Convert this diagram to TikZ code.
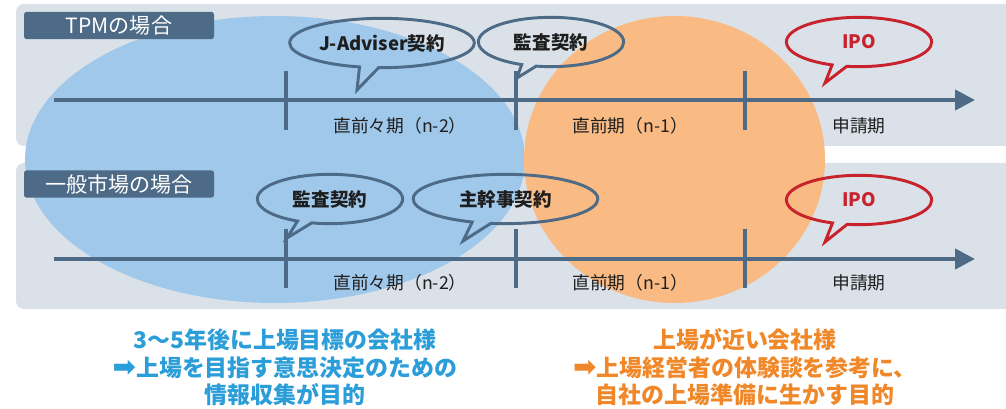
\documentclass[tikz,border=0pt]{standalone}
\usepackage{fontspec}
\newfontfamily\jpfont{Noto Sans CJK JP}
\newfontfamily\symfont{DejaVu Sans}
\newcommand{\goalarrow}{{\symfont\fontsize{21pt}{20.6pt}\selectfont ➡}}
\usetikzlibrary{shapes.callouts,arrows.meta}

\definecolor{panelgrey}{RGB}{218,225,232}
\definecolor{slate}{RGB}{77,106,134}
\definecolor{skyfill}{RGB}{160,200,235}
\definecolor{peachfill}{RGB}{249,187,131}
\definecolor{ipored}{RGB}{200,35,45}
\definecolor{goalblue}{RGB}{43,157,216}
\definecolor{goalorange}{RGB}{240,135,40}
\definecolor{darktext}{RGB}{30,30,30}

\tikzset{every picture/.style={line width=0.75pt},
  panel/.style={fill=panelgrey, rounded corners=6pt},
  tag/.style={fill=slate, rounded corners=2pt, inner sep=0pt, minimum width=142.5pt, minimum height=20.5pt, text=white, font=\jpfont\fontsize{15.8pt}{18pt}\selectfont},
  timeline/.style={draw=slate, line width=3.2pt, -{Triangle[length=15pt,width=15pt]}},
  tickmark/.style={draw=slate, line width=3.4pt},
  period/.style={inner sep=0pt, text=darktext, font=\jpfont\fontsize{13.3pt}{15pt}\selectfont},
  bubble/.style={ellipse callout, draw=slate, line width=2.2pt, inner sep=0pt, callout pointer arc=12, minimum width=109pt, minimum height=37pt, text=darktext, font=\jpfont\bfseries\fontsize{13.9pt}{16pt}\selectfont},
  widebubble/.style={bubble, minimum width=138.5pt},
  ipobubble/.style={bubble, draw=ipored, text=ipored},
  goal/.style={align=center, inner sep=0pt, font=\jpfont\bfseries\fontsize{17.2pt}{20.6pt}\selectfont}
}

\begin{document}
\begin{tikzpicture}[x=0.75pt,y=0.75pt,yscale=-1,xscale=1]
\useasboundingbox (0,0) rectangle (1006,409);

%Shape: Panels
\fill [panel] (16,4) rectangle (1016,146);
\fill [panel] (16,163) rectangle (1016,309);

%Shape: Ellipses
\fill [skyfill] (275,159.5) ellipse [x radius=250, y radius=143.5];
\fill [peachfill] (674.5,159.5) ellipse [x radius=150.5, y radius=143.5];

%Text Node: panel tags
\node [tag] (tpm tag) at (119,25.5) {TPMの場合};
\node [tag] (market tag) at (119,184) {一般市場の場合};

%Timelines
\coordinate (tpm start) at (54,100);
\coordinate (tpm end) at (975,100);
\coordinate (market start) at (54,259);
\coordinate (market end) at (975,259);
\draw [timeline] (tpm start) -- (tpm end);
\draw [timeline] (market start) -- (market end);
\foreach \tx in {286,516,745} {
  \draw [tickmark] (\tx,71) -- (\tx,130);
  \draw [tickmark] (\tx,229) -- (\tx,288);
}

%Text Node: periods
\node [period] (tpm n2) at (400,126) {直前々期（n-2）};
\node [period] (tpm n1) at (630,126) {直前期（n-1）};
\node [period] (tpm apply) at (859,126) {申請期};
\node [period] (market n2) at (400,283) {直前々期（n-2）};
\node [period] (market n1) at (630,283) {直前期（n-1）};
\node [period] (market apply) at (859,283) {申請期};

%Callouts: TPM
\coordinate (jadv tip) at (357,90);
\coordinate (tpm audit tip) at (517,78);
\coordinate (tpm ipo tip) at (825,83);
\node [widebubble, callout absolute pointer={(jadv tip)}] (jadv) at (382,43) {J-Adviser契約};
\node [bubble, callout absolute pointer={(tpm audit tip)}] (tpm audit) at (551,42) {監査契約};
\node [ipobubble, callout absolute pointer={(tpm ipo tip)}] (tpm ipo) at (859,42) {IPO};

%Callouts: market
\coordinate (audit tip) at (287,238);
\coordinate (lead tip) at (463,241);
\coordinate (market ipo tip) at (825,242);
\node [bubble, callout absolute pointer={(audit tip)}] (market audit) at (330,199) {監査契約};
\node [widebubble, callout absolute pointer={(lead tip)}] (lead) at (505.5,199) {主幹事契約};
\node [ipobubble, callout absolute pointer={(market ipo tip)}] (market ipo) at (859,200) {IPO};

%Text Node: goals
\node [goal, text=goalblue] (tpm goal) at (285,367.5) {3〜5年後に上場目標の会社様\\\goalarrow 上場を目指す意思決定のための\\情報収集が目的};
\node [goal, text=goalorange] (market goal) at (745,367.5) {上場が近い会社様\\\goalarrow 上場経営者の体験談を参考に、\\自社の上場準備に生かす目的};

\end{tikzpicture}
\end{document}
